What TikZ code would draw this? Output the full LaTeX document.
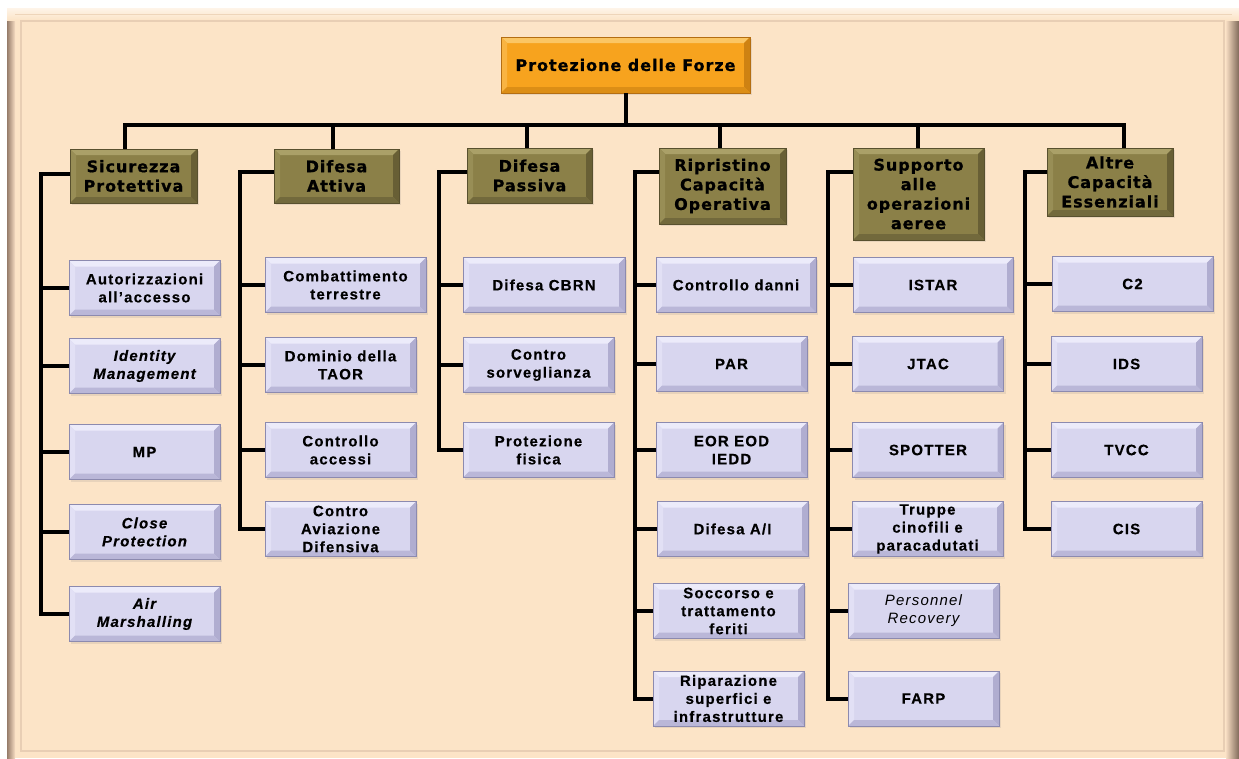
\documentclass[tikz,border=0pt]{standalone}
\usepackage{fontspec}
\usetikzlibrary{shadows}
\newfontfamily\hdfont{DejaVu Sans}[LetterSpace=6, BoldFeatures={FakeBold=0.8}]
\newfontfamily\chfont{Liberation Sans}[LetterSpace=8, BoldFeatures={FakeBold=0.3}, BoldItalicFeatures={FakeBold=0.3}]

% panel
\definecolor{peach}{RGB}{252,228,199}
\definecolor{peachln}{RGB}{232,206,180}
\definecolor{frameDk}{RGB}{150,124,106}
\definecolor{frameLt}{RGB}{246,220,194}
% lavender boxes
\definecolor{lav}{RGB}{216,214,239}
\definecolor{lavHi}{RGB}{236,235,250}
\definecolor{lavLt}{RGB}{226,224,245}
\definecolor{lavRt}{RGB}{176,173,208}
\definecolor{lavBt}{RGB}{186,183,216}
\definecolor{lavLn}{RGB}{140,138,175}
% olive boxes
\definecolor{olv}{RGB}{139,128,72}
\definecolor{olvHi}{RGB}{170,160,104}
\definecolor{olvLt}{RGB}{152,142,86}
\definecolor{olvRt}{RGB}{104,95,53}
\definecolor{olvBt}{RGB}{114,105,60}
\definecolor{olvLn}{RGB}{88,80,46}
% orange box
\definecolor{org}{RGB}{247,163,30}
\definecolor{orgHi}{RGB}{251,198,100}
\definecolor{orgLt}{RGB}{249,180,66}
\definecolor{orgRt}{RGB}{206,130,18}
\definecolor{orgBt}{RGB}{220,142,22}
\definecolor{orgLn}{RGB}{180,110,18}

% four bevel facets inside a box: width, top, left, right, bottom
\newcommand\bevelfill[5]{%
  \fill[#2] (path picture bounding box.north west) -- (path picture bounding box.north east)
    -- ([xshift=-#1,yshift=-#1]path picture bounding box.north east)
    -- ([xshift=#1,yshift=-#1]path picture bounding box.north west) -- cycle;
  \fill[#3] (path picture bounding box.north west) -- ([xshift=#1,yshift=-#1]path picture bounding box.north west)
    -- ([xshift=#1,yshift=#1]path picture bounding box.south west) -- (path picture bounding box.south west) -- cycle;
  \fill[#4] (path picture bounding box.north east) -- ([xshift=-#1,yshift=-#1]path picture bounding box.north east)
    -- ([xshift=-#1,yshift=#1]path picture bounding box.south east) -- (path picture bounding box.south east) -- cycle;
  \fill[#5] (path picture bounding box.south west) -- ([xshift=#1,yshift=#1]path picture bounding box.south west)
    -- ([xshift=-#1,yshift=#1]path picture bounding box.south east) -- (path picture bounding box.south east) -- cycle;
}

\newcommand\chsize{\fontsize{15}{18}\selectfont}
\newcommand\hdsize{\fontsize{16}{19.5}\selectfont}

\tikzset{
  box/.style={inner sep=0pt, align=center, line width=0.8pt,
    drop shadow={opacity=0.16, shadow xshift=2pt, shadow yshift=-2pt}},
  rootbox/.style={box, fill=org, draw=orgLn, minimum width=249pt, minimum height=56pt,
    font=\hdfont\bfseries\hdsize, text=black,
    path picture={\bevelfill{6pt}{orgHi}{orgLt}{orgRt}{orgBt}}},
  headbox/.style={box, fill=olv, draw=olvLn, font=\hdfont\bfseries\hdsize, text=black,
    path picture={\bevelfill{6pt}{olvHi}{olvLt}{olvRt}{olvBt}}},
  itembox/.style={box, fill=lav, draw=lavLn, minimum height=55pt, minimum width=151pt,
    font=\chfont\bfseries\chsize, text=black,
    path picture={\bevelfill{6pt}{lavHi}{lavLt}{lavRt}{lavBt}}},
  itemit/.style={itembox, font=\chfont\bfseries\itshape\chsize},
  itemsl/.style={itembox, font=\chfont\itshape\chsize},
  conn/.style={line width=4pt, black},
}

\begin{document}
\begin{tikzpicture}[x=1pt, y=-1pt]
  \fill[white] (0,0) rectangle (1239,758);
  \useasboundingbox (0,0) rectangle (1239,758);

  % panel with bevelled frame
  \fill[peach] (7,8) rectangle (1239,758);
  \shade[left color=frameDk, right color=frameLt] (7,8) rectangle (15,758);
  \shade[left color=frameLt, right color=frameDk!85!black] (1226,8) rectangle (1239,758);
  \shade[top color=white!60!peach, bottom color=peach] (7,8) rectangle (1239,20);
  \draw[peachln, line width=1.2pt] (21,21) rectangle (1224,751);
  \draw[peachln!70!peach, line width=1pt] (15,14) -- (1232,14);

  % root and first level
  \node[rootbox] (root) at (625.5,65) {Protezione delle Forze};

  \node[headbox, minimum width=127pt, minimum height=54pt] (h1) at (133.5,176) {Sicurezza\\Protettiva};
  \node[headbox, minimum width=125pt, minimum height=54pt] (h2) at (336.5,176) {Difesa\\Attiva};
  \node[headbox, minimum width=125pt, minimum height=55pt] (h3) at (529.5,175.5) {Difesa\\Passiva};
  \node[headbox, minimum width=127pt, minimum height=76pt] (h4) at (722.5,186) {Ripristino\\Capacità\\Operativa};
  \node[headbox, minimum width=131pt, minimum height=92pt] (h5) at (918.5,194) {Supporto\\alle\\operazioni\\aeree};
  \node[headbox, minimum width=126pt, minimum height=68pt] (h6) at (1110,182) {Altre\\Capacità\\Essenziali};

  % Sicurezza Protettiva
  \node[itembox, minimum width=151pt] (c11) at (144.5,288) {Autorizzazioni\\all’accesso};
  \node[itemit, minimum width=151pt] (c12) at (144.5,366) {Identity\\Management};
  \node[itembox, minimum width=151pt] (c13) at (144.5,452) {MP};
  \node[itemit, minimum width=151pt] (c14) at (144.5,532) {Close\\Protection};
  \node[itemit, minimum width=151pt] (c15) at (144.5,614) {Air\\Marshalling};

  % Difesa Attiva
  \node[itembox, minimum width=161pt] (c21) at (345.5,285) {Combattimento\\terrestre};
  \node[itembox] (c22) at (340.5,365) {Dominio della\\TAOR};
  \node[itembox] (c23) at (340.5,450) {Controllo\\accessi};
  \node[itembox] (c24) at (340.5,529) {Contro\\Aviazione\\Difensiva};

  % Difesa Passiva
  \node[itembox, minimum width=162pt] (c31) at (544,285) {Difesa CBRN};
  \node[itembox] (c32) at (538.5,365) {Contro\\sorveglianza};
  \node[itembox] (c33) at (538.5,450) {Protezione\\fisica};

  % Ripristino Capacità Operativa
  \node[itembox, minimum width=160pt] (c41) at (736,285) {Controllo danni};
  \node[itembox] (c42) at (731.5,364) {PAR};
  \node[itembox] (c43) at (731.5,450) {EOR EOD\\IEDD};
  \node[itembox] (c44) at (732.5,529) {Difesa A/I};
  \node[itembox] (c45) at (728.5,611) {Soccorso e\\trattamento\\feriti};
  \node[itembox] (c46) at (728.5,698.5) {Riparazione\\superfici e\\infrastrutture};

  % Supporto alle operazioni aeree
  \node[itembox, minimum width=160pt] (c51) at (933,285) {ISTAR};
  \node[itembox] (c52) at (928,364) {JTAC};
  \node[itembox] (c53) at (928,450) {SPOTTER};
  \node[itembox] (c54) at (927.5,529) {Truppe\\cinofili e\\paracadutati};
  \node[itemsl] (c55) at (923.5,611) {Personnel\\Recovery};
  \node[itembox] (c56) at (923.5,698.5) {FARP};

  % Altre Capacità Essenziali
  \node[itembox, minimum width=161pt] (c61) at (1132.5,284) {C2};
  \node[itembox] (c62) at (1126.5,364) {IDS};
  \node[itembox] (c63) at (1126.5,450) {TVCC};
  \node[itembox] (c64) at (1126.5,529) {CIS};

  % top bus
  \coordinate (b1) at (125,125);
  \coordinate (b2) at (333,125);
  \coordinate (b3) at (527,125);
  \coordinate (b4) at (720,125);
  \coordinate (b5) at (918,125);
  \coordinate (b6) at (1124,125);
  \draw[conn] (root.south) -- (root.south |- b1);
  \draw[conn, line cap=rect] (b1) -- (b6);
  \draw[conn] (b1) -- (b1 |- h1.north);
  \draw[conn] (b2) -- (b2 |- h2.north);
  \draw[conn] (b3) -- (b3 |- h3.north);
  \draw[conn] (b4) -- (b4 |- h4.north);
  \draw[conn] (b5) -- (b5 |- h5.north);
  \draw[conn] (b6) -- (b6 |- h6.north);

  % column spines
  \coordinate (v1) at (41,174);
  \coordinate (v2) at (240,172);
  \coordinate (v3) at (439,172);
  \coordinate (v4) at (635,172);
  \coordinate (v5) at (828,172);
  \coordinate (v6) at (1025,172);

  \draw[conn] (h1.west |- v1) -- (v1) -- (v1 |- c15.west) -- (c15.west);
  \foreach \c in {c11,c12,c13,c14} \draw[conn] (v1 |- \c.west) -- (\c.west);

  \draw[conn] (h2.west |- v2) -- (v2) -- (v2 |- c24.west) -- (c24.west);
  \foreach \c in {c21,c22,c23} \draw[conn] (v2 |- \c.west) -- (\c.west);

  \draw[conn] (h3.west |- v3) -- (v3) -- (v3 |- c33.west) -- (c33.west);
  \foreach \c in {c31,c32} \draw[conn] (v3 |- \c.west) -- (\c.west);

  \draw[conn] (h4.west |- v4) -- (v4) -- (v4 |- c46.west) -- (c46.west);
  \foreach \c in {c41,c42,c43,c44,c45} \draw[conn] (v4 |- \c.west) -- (\c.west);

  \draw[conn] (h5.west |- v5) -- (v5) -- (v5 |- c56.west) -- (c56.west);
  \foreach \c in {c51,c52,c53,c54,c55} \draw[conn] (v5 |- \c.west) -- (\c.west);

  \draw[conn] (h6.west |- v6) -- (v6) -- (v6 |- c64.west) -- (c64.west);
  \foreach \c in {c61,c62,c63} \draw[conn] (v6 |- \c.west) -- (\c.west);
\end{tikzpicture}
\end{document}
